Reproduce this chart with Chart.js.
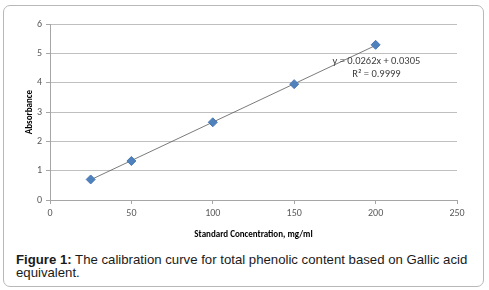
<!DOCTYPE html>
<html>
<head>
<meta charset="utf-8">
<script src="https://cdn.jsdelivr.net/npm/chart.js@4"></script>
<style>
    html, body { margin: 0; padding: 0; background: #fff; }
    .frame {
        position: absolute;
        left: 3px; top: 5px;
        width: 479px; height: 280px;
        border: 1px solid #b8b8b8;
        border-radius: 7px;
        overflow: hidden;
    }
    .plot { position: absolute; left: 0; top: 0; width: 480px; height: 238px; }
    .caption {
        position: absolute;
        left: 12px; top: 248px; width: 462px;
        font-family: "Liberation Sans", Arial, sans-serif;
        font-size: 13.2px; line-height: 12.6px;
        color: #1a1a1a;
    }
</style>
</head>
<body>
<div class="frame">
    <div class="plot"><canvas id="chart" width="480" height="238"></canvas></div>
    <div class="caption"><b>Figure 1:</b> The calibration curve for total phenolic content based on Gallic acid equivalent.</div>
</div>
<script>
    'use strict';

    const concentrations = [25, 50, 100, 150, 200];
    const absorbance = [0.70, 1.33, 2.65, 3.95, 5.29];

    // Linear trendline end points as drawn
    const trendX = [25, 200];
    const trendY = [0.69, 5.27];

    const equationLines = ['y = 0.0262x + 0.0305', 'R\u00B2 = 0.9999'];

    const xTicks = [0, 50, 100, 150, 200, 250];
    const yTicks = [0, 1, 2, 3, 4, 5, 6];

    const fontFamily = 'Carlito, "Open Sans", sans-serif';
    const tickFont = { family: fontFamily, size: 10 };
    const axisGray = '#a6a6a6';

    // Draws the trendline equation text
    const equationLabel = {
        id: 'equationLabel',
        afterDatasetsDraw(chart) {
            const ctx = chart.ctx;
            const x = chart.scales.x.getPixelForValue(200.5);
            const y = chart.scales.y.getPixelForValue(4.72);
            ctx.save();
            ctx.font = '10.5px ' + fontFamily;
            ctx.fillStyle = '#404040';
            ctx.textAlign = 'center';
            ctx.textBaseline = 'middle';
            ctx.fillText(equationLines[0], x, y);
            ctx.fillText(equationLines[1], x, y + 12.5);
            ctx.restore();
        }
    };

    new Chart(document.getElementById('chart'), {
        type: 'scatter',
        data: {
            datasets: [
                {
                    label: 'Trendline',
                    data: trendX.map((x, i) => ({ x: x, y: trendY[i] })),
                    showLine: true,
                    borderColor: '#595959',
                    borderWidth: 0.8,
                    pointRadius: 0,
                    order: 2
                },
                {
                    label: 'Absorbance',
                    data: concentrations.map((x, i) => ({ x: x, y: absorbance[i] })),
                    pointStyle: 'rectRot',
                    pointRadius: 4.5,
                    backgroundColor: '#4F81BD',
                    borderColor: '#4A7AB5',
                    borderWidth: 1,
                    order: 1
                }
            ]
        },
        options: {
            responsive: false,
            animation: false,
            events: [],
            layout: { padding: { left: 16, right: 27, top: 18, bottom: 0 } },
            plugins: {
                legend: { display: false },
                tooltip: { enabled: false }
            },
            scales: {
                x: {
                    type: 'linear',
                    min: 0, max: 250,
                    afterBuildTicks: axis => { axis.ticks = xTicks.map(v => ({ value: v })); },
                    afterFit: axis => { axis.height = 44; },
                    grid: { drawOnChartArea: false, color: axisGray, tickLength: 4 },
                    border: { color: axisGray },
                    ticks: { color: '#595959', font: tickFont, padding: 3, maxRotation: 0 },
                    title: {
                        display: true,
                        text: 'Standard Concentration, mg/ml',
                        color: '#000',
                        font: { family: fontFamily, size: 9, weight: 'bold' },
                        padding: { top: 8 }
                    }
                },
                y: {
                    min: 0, max: 6,
                    afterBuildTicks: axis => { axis.ticks = yTicks.map(v => ({ value: v })); },
                    afterFit: axis => { axis.width = 30; },
                    grid: { color: '#bfbfbf', tickColor: axisGray, tickLength: 4 },
                    border: { color: axisGray },
                    ticks: { color: '#595959', font: tickFont, padding: 4 },
                    title: {
                        display: true,
                        text: 'Absorbance',
                        color: '#000',
                        font: { family: fontFamily, size: 9, weight: 'bold' },
                        padding: { bottom: 4 }
                    }
                }
            }
        },
        plugins: [equationLabel]
    });
</script>
</body>
</html>
